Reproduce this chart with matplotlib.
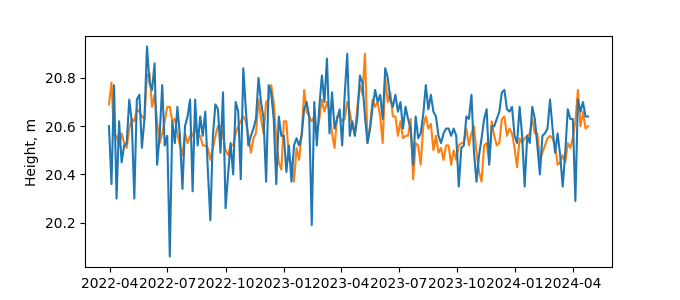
import matplotlib
matplotlib.use("Agg")
import matplotlib.pyplot as plt
import pandas as pd

start_date = "2022-03-31"
step = "4D"

height_a = [
    20.60, 20.36, 20.77, 20.30, 20.62, 20.45, 20.52, 20.53, 20.71, 20.62, 20.30, 20.71, 20.73, 20.51, 20.63, 20.93, 20.78, 20.75, 20.86, 20.44, 20.56, 20.77, 20.52, 20.56, 20.06, 20.62, 20.53, 20.68,
    20.56, 20.34, 20.60, 20.64, 20.71, 20.33, 20.71, 20.52, 20.64, 20.56, 20.66, 20.42, 20.21, 20.56, 20.69, 20.67, 20.49, 20.74, 20.26, 20.40, 20.53, 20.40, 20.70, 20.66, 20.38, 20.84, 20.67, 20.52, 20.56, 20.59, 20.63, 20.80, 20.70, 20.63,
    20.37, 20.77, 20.74, 20.63, 20.36, 20.64, 20.56, 20.56, 20.41, 20.52, 20.37, 20.52, 20.55, 20.52, 20.56, 20.67, 20.70, 20.64, 20.19, 20.70, 20.52, 20.68, 20.81, 20.70, 20.88, 20.57, 20.74, 20.59, 20.63, 20.67, 20.52,
    20.73, 20.90, 20.56, 20.62, 20.56, 20.64, 20.81, 20.78, 20.64, 20.53, 20.59, 20.68, 20.75, 20.70, 20.73, 20.63, 20.84, 20.80, 20.71, 20.68, 20.73, 20.66, 20.70, 20.59, 20.68, 20.63, 20.59, 20.44, 20.64, 20.55, 20.57, 20.65,
    20.77, 20.67, 20.73, 20.66, 20.64, 20.56, 20.53, 20.57, 20.59, 20.59, 20.56, 20.59, 20.56, 20.35, 20.51, 20.52, 20.64, 20.63, 20.73, 20.49, 20.37, 20.48, 20.55, 20.63, 20.67, 20.44, 20.60, 20.60, 20.63, 20.66, 20.74,
    20.75, 20.67, 20.66, 20.68, 20.56, 20.53, 20.68, 20.56, 20.35, 20.56, 20.53, 20.68, 20.63, 20.52, 20.40, 20.56, 20.57, 20.59, 20.71, 20.59, 20.49, 20.57, 20.48, 20.35, 20.49, 20.67, 20.63, 20.63, 20.29, 20.71, 20.66, 20.70, 20.64, 20.64,
]

height_b = [
    20.69, 20.78, 20.56, 20.56, 20.52, 20.57, 20.53, 20.51, 20.59, 20.63, 20.62, 20.67, 20.66, 20.64, 20.63, 20.81, 20.82, 20.68, 20.73, 20.62, 20.53, 20.57, 20.62, 20.68, 20.68, 20.62, 20.63, 20.57,
    20.52, 20.48, 20.57, 20.53, 20.56, 20.56, 20.60, 20.56, 20.56, 20.52, 20.52, 20.51, 20.46, 20.51, 20.56, 20.60, 20.60, 20.56, 20.50, 20.48, 20.52, 20.52, 20.57, 20.60, 20.62, 20.64, 20.62, 20.56, 20.49, 20.55, 20.57, 20.71, 20.63, 20.57,
    20.70, 20.71, 20.77, 20.70, 20.55, 20.45, 20.42, 20.62, 20.62, 20.46, 20.45, 20.37, 20.51, 20.46, 20.56, 20.75, 20.66, 20.64, 20.62, 20.64, 20.57, 20.63, 20.71, 20.66, 20.70, 20.66, 20.57, 20.51, 20.64, 20.64, 20.62,
    20.63, 20.70, 20.66, 20.60, 20.57, 20.68, 20.77, 20.73, 20.90, 20.53, 20.60, 20.71, 20.68, 20.70, 20.64, 20.53, 20.80, 20.70, 20.74, 20.64, 20.64, 20.56, 20.62, 20.55, 20.56, 20.56, 20.63, 20.38, 20.53, 20.52, 20.44, 20.60,
    20.64, 20.59, 20.61, 20.50, 20.56, 20.49, 20.51, 20.46, 20.52, 20.52, 20.44, 20.50, 20.46, 20.52, 20.53, 20.53, 20.59, 20.52, 20.57, 20.60, 20.49, 20.41, 20.37, 20.52, 20.53, 20.45, 20.62, 20.56, 20.52, 20.53, 20.63,
    20.64, 20.56, 20.59, 20.57, 20.51, 20.43, 20.55, 20.53, 20.55, 20.56, 20.57, 20.63, 20.57, 20.57, 20.46, 20.49, 20.52, 20.55, 20.56, 20.55, 20.52, 20.44, 20.45, 20.48, 20.45, 20.53, 20.51, 20.55, 20.62, 20.75, 20.60, 20.66, 20.59, 20.60,
]

dates = pd.date_range(start_date, periods=len(height_a), freq=step)

fig, ax = plt.subplots(figsize=(6.8, 3), dpi=100)
ax.plot(dates, height_b, color="tab:orange")   # drawn under the blue one
ax.plot(dates, height_a, color="tab:blue")
ax.set_ylabel("Height, m")

fig.savefig("out.png")
